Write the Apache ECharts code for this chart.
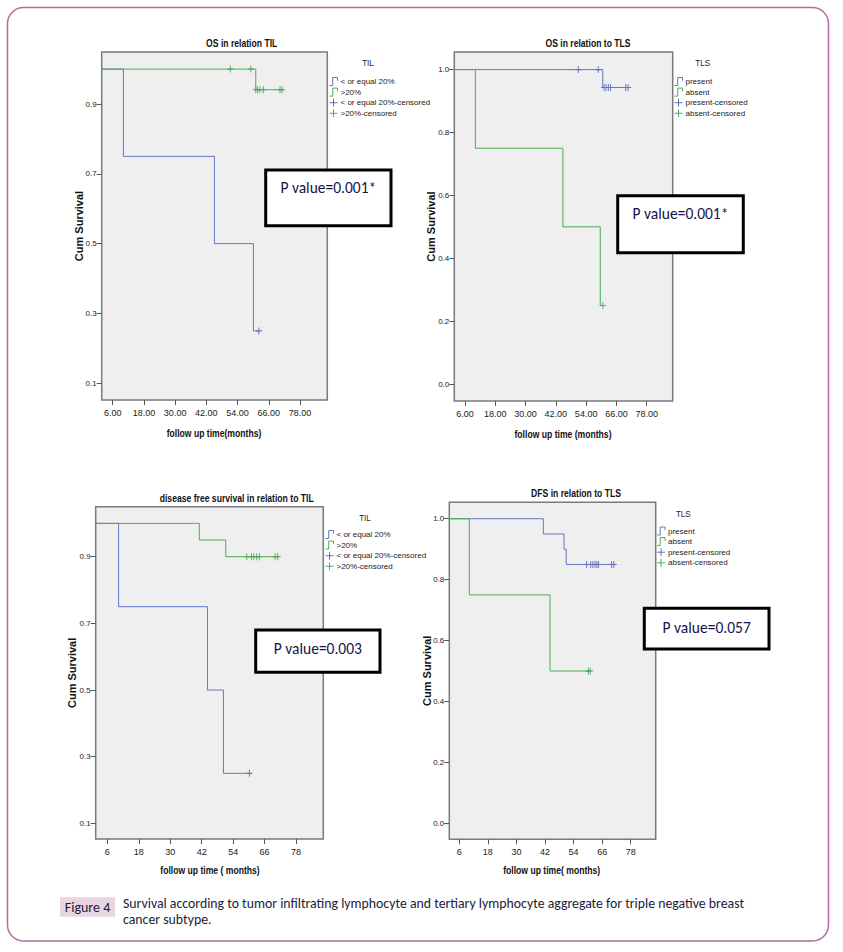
<!DOCTYPE html>
<html><head><meta charset="utf-8">
<script src="https://cdn.jsdelivr.net/npm/echarts@6/dist/echarts.min.js"></script>
<style>html,body{margin:0;padding:0;background:#fff}#c{width:843px;height:952px}</style>
</head><body><div id="c"></div>
<script>
// ---------- Data ----------
// Panel 1: OS in relation TIL
const osTilLowTime = [0, 10.1, 45.1, 60.1, 62.2];
const osTilLowSurv = [1, 0.75, 0.5, 0.25, 0.25];
const osTilLowCensTime = [62.2];
const osTilLowCensSurv = [0.25];
const osTilHighTime = [0, 61.0, 71.9];
const osTilHighSurv = [1, 0.941, 0.941];
const osTilHighCensTime = [51.2, 59.1, 61.0, 61.7, 62.6, 63.9, 70.3, 71.1];
const osTilHighCensSurv = [1, 1, 0.941, 0.941, 0.941, 0.941, 0.941, 0.941];

// Panel 2: OS in relation to TLS
const osTlsPresTime = [0, 60.6, 71.1];
const osTlsPresSurv = [1, 0.943, 0.943];
const osTlsPresCensTime = [50.9, 58.8, 61.1, 61.9, 62.8, 63.7, 69.7, 70.6];
const osTlsPresCensSurv = [1, 1, 0.943, 0.943, 0.943, 0.943, 0.943, 0.943];
const osTlsAbsTime = [0, 10.1, 44.8, 59.6, 60.6];
const osTlsAbsSurv = [1, 0.75, 0.5, 0.25, 0.25];
const osTlsAbsCensTime = [60.6];
const osTlsAbsCensSurv = [0.25];

// Panel 3: disease free survival in relation to TIL
const dfsTilLowTime = [0, 10.3, 44.2, 50.3, 60.2];
const dfsTilLowSurv = [1, 0.75, 0.5, 0.25, 0.25];
const dfsTilLowCensTime = [60.2];
const dfsTilLowCensSurv = [0.25];
const dfsTilHighTime = [0, 41.1, 51.2, 71.6];
const dfsTilHighSurv = [1, 0.95, 0.9, 0.9];
const dfsTilHighCensTime = [59.2, 61.0, 61.9, 63.0, 64.0, 70.0, 71.0];
const dfsTilHighCensSurv = [0.9, 0.9, 0.9, 0.9, 0.9, 0.9, 0.9];

// Panel 4: DFS in relation to TLS
const dfsTlsPresTime = [0, 41.3, 50.0, 50.9, 71.9];
const dfsTlsPresSurv = [1, 0.95, 0.9, 0.85, 0.85];
const dfsTlsPresCensTime = [59.5, 61.2, 62.1, 63.0, 63.8, 64.4, 70.0, 70.9];
const dfsTlsPresCensSurv = [0.85, 0.85, 0.85, 0.85, 0.85, 0.85, 0.85, 0.85];
const dfsTlsAbsTime = [0, 10.2, 44.1, 61.0];
const dfsTlsAbsSurv = [1, 0.75, 0.5, 0.5];
const dfsTlsAbsCensTime = [60.2, 61.0];
const dfsTlsAbsCensSurv = [0.5, 0.5];

// Tick labels
const xTickValues = [6, 18, 30, 42, 54, 66, 78];
const yTicksTIL = [0.1, 0.3, 0.5, 0.7, 0.9];
const yTicksTLS = [0.0, 0.2, 0.4, 0.6, 0.8, 1.0];

// Names / texts
const panelTitles = ['OS in relation TIL', 'OS in relation to TLS', 'disease free survival in relation to TIL', 'DFS in relation to TLS'];
const xAxisNames = ['follow up time(months)', 'follow up time (months)', 'follow up time ( months)', 'follow up time( months)'];
const yAxisName = 'Cum Survival';
const tilNames = ['< or equal 20%', '>20%', '< or equal 20%-censored', '>20%-censored'];
const tlsNames = ['present', 'absent', 'present-censored', 'absent-censored'];
const pValues = ['P value=0.001*', 'P value=0.001*', 'P value=0.003', 'P value=0.057'];
const captionLabel = 'Figure 4';
const captionText = 'Survival according to tumor infiltrating lymphocyte and tertiary lymphocyte aggregate for triple negative breast\ncancer subtype.';

// ---------- Styling ----------
const NARROW = '"Liberation Sans Narrow","Arial Narrow","Liberation Sans",sans-serif';
const SANS = '"Liberation Sans",Arial,sans-serif';
const CAL = 'Carlito,Calibri,Lato,sans-serif';
const BLUE = '#6676c4', BLUE_C = '#3f51a8', GREEN = '#4aad52', GREEN_C = '#2e9a3e';
const stepIcon = 'path://M0,10L4,10L4,0L10,0L10,4';
const plusIcon = 'path://M5,0L5,10M0,5L10,5';
const censSym = 'path://M5,0L5,10M0,5L10,5';

function zip(t, s) { return t.map((v, i) => [v, s[i]]); }

const grids = [
  {left: 101.7, top: 52, width: 225.6, height: 348},
  {left: 454.3, top: 52, width: 218.4, height: 349},
  {left: 95.7, top: 506.7, width: 227.6, height: 332.3},
  {left: 449.3, top: 502.3, width: 206.4, height: 337}
];
const xRanges = [[1.77, 88.5], [1.76, 88.3], [1.57, 88.4], [1.8, 88.5]];
const yRanges = [[0.052, 1.049], [-0.054, 1.056], [0.053, 1.05], [-0.0525, 1.054]];
const yTicksPer = [yTicksTIL, yTicksTLS, yTicksTIL, yTicksTLS];
const xFmt = [v => v.toFixed(2), v => v.toFixed(2), v => String(v), v => String(v)];
const yNameGap = [17, 17.5, 18, 17];

const xAxes = grids.map((g, i) => ({
  type: 'value', gridIndex: i, min: xRanges[i][0], max: xRanges[i][1], position: 'bottom',
  axisLine: {show: false, onZero: false}, splitLine: {show: false},
  axisTick: {show: true, customValues: xTickValues, length: 5, lineStyle: {color: '#555'}},
  axisLabel: {customValues: xTickValues, formatter: xFmt[i], margin: 8, fontSize: 9, fontFamily: NARROW, color: '#222'}
}));
const yAxes = grids.map((g, i) => ({
  type: 'value', gridIndex: i, min: yRanges[i][0], max: yRanges[i][1], position: 'left',
  name: yAxisName, nameLocation: 'middle', nameGap: yNameGap[i], nameMoveOverlap: false,
  nameTextStyle: {fontFamily: SANS, fontWeight: 'bold', fontSize: 11, color: '#111'},
  axisLine: {show: false, onZero: false}, splitLine: {show: false},
  axisTick: {show: true, customValues: yTicksPer[i], length: 5, lineStyle: {color: '#555'}},
  axisLabel: {customValues: yTicksPer[i], formatter: v => v.toFixed(1), margin: 5, fontSize: 8, fontFamily: NARROW, color: '#222'}
}));

function km(name, gi, t, s, color) {
  return {type: 'line', name, xAxisIndex: gi, yAxisIndex: gi, step: 'end', data: zip(t, s),
    symbol: 'none', lineStyle: {color, width: 1}, itemStyle: {color}, silent: true, animation: false, clip: true};
}
function cens(name, gi, t, s, color) {
  return {type: 'scatter', name, xAxisIndex: gi, yAxisIndex: gi, data: zip(t, s),
    symbol: censSym, symbolSize: [6, 7],
    itemStyle: {color: 'transparent', borderColor: color, borderWidth: 1}, silent: true, animation: false};
}

const series = [
  km(tilNames[0], 0, osTilLowTime, osTilLowSurv, BLUE),
  km(tilNames[1], 0, osTilHighTime, osTilHighSurv, GREEN),
  cens(tilNames[2], 0, osTilLowCensTime, osTilLowCensSurv, BLUE_C),
  cens(tilNames[3], 0, osTilHighCensTime, osTilHighCensSurv, GREEN_C),

  km(tlsNames[0], 1, osTlsPresTime, osTlsPresSurv, BLUE),
  km(tlsNames[1], 1, osTlsAbsTime, osTlsAbsSurv, GREEN),
  cens(tlsNames[2], 1, osTlsPresCensTime, osTlsPresCensSurv, BLUE_C),
  cens(tlsNames[3], 1, osTlsAbsCensTime, osTlsAbsCensSurv, GREEN_C),

  km(tilNames[0], 2, dfsTilLowTime, dfsTilLowSurv, BLUE),
  km(tilNames[1], 2, dfsTilHighTime, dfsTilHighSurv, GREEN),
  cens(tilNames[2], 2, dfsTilLowCensTime, dfsTilLowCensSurv, BLUE_C),
  cens(tilNames[3], 2, dfsTilHighCensTime, dfsTilHighCensSurv, GREEN_C),

  km(tlsNames[0], 3, dfsTlsPresTime, dfsTlsPresSurv, BLUE),
  km(tlsNames[1], 3, dfsTlsAbsTime, dfsTlsAbsSurv, GREEN),
  cens(tlsNames[2], 3, dfsTlsPresCensTime, dfsTlsPresCensSurv, BLUE_C),
  cens(tlsNames[3], 3, dfsTlsAbsCensTime, dfsTlsAbsCensSurv, GREEN_C)
];

function legendData(names) {
  const cols = [BLUE, GREEN, BLUE_C, GREEN_C];
  return names.map((n, i) => ({
    name: n, icon: i < 2 ? stepIcon : plusIcon,
    itemStyle: {color: 'transparent', borderColor: cols[i], borderWidth: 1}
  }));
}
const legendPos = [[329, 77], [674, 77], [325, 530], [656.5, 526.5]];
const legends = legendPos.map((p, i) => ({
  left: p[0], top: p[1], orient: 'vertical', padding: 0, itemGap: 1.6, itemWidth: 10, itemHeight: 8,
  selectedMode: false, data: legendData(i % 2 === 0 ? tilNames : tlsNames),
  textStyle: {fontSize: 8, fontFamily: NARROW, color: '#222', padding: [0, 0, 0, -3]}
}));

// ---------- Graphic texts & boxes ----------
const graphic = [];
graphic.push({type: 'rect', z: 0, shape: {x: 7.5, y: 7.5, width: 821, height: 933.5, r: 16},
  style: {fill: 'none', stroke: '#b56a9b', lineWidth: 1.5}});
const titlePos = [[241.7, 43], [588, 43], [236.7, 498], [576, 493.5]];
titlePos.forEach((p, i) => graphic.push({type: 'text', x: p[0], y: p[1], z: 50, scaleX: 0.82,
  style: {text: panelTitles[i], textAlign: 'center', textVerticalAlign: 'middle',
    fontFamily: NARROW, fontWeight: 'bold', fontSize: 10.5, fill: '#111'}}));
const xNamePos = [[214, 433], [563, 434], [210, 870], [551.7, 870]];
xNamePos.forEach((p, i) => graphic.push({type: 'text', x: p[0], y: p[1], z: 50, scaleX: 0.82,
  style: {text: xAxisNames[i], textAlign: 'center', textVerticalAlign: 'middle',
    fontFamily: NARROW, fontWeight: 'bold', fontSize: 10.5, fill: '#111'}}));
const legTitlePos = [[368, 63], [702.7, 63], [365, 517.3], [683.3, 513.3]];
legTitlePos.forEach((p, i) => graphic.push({type: 'text', x: p[0], y: p[1], z: 50, scaleX: 0.85,
  style: {text: i % 2 === 0 ? 'TIL' : 'TLS', textAlign: 'center', textVerticalAlign: 'middle',
    fontFamily: NARROW, fontSize: 9.5, fill: '#222'}}));
const pBoxes = [[265.7, 170, 125.3, 55.7, 187], [617.7, 195.7, 125.6, 57, 213],
                [255.7, 630, 124.3, 42.3, 648], [644.3, 608.3, 124.7, 40.7, 627.5]];
pBoxes.forEach((b, i) => {
  graphic.push({type: 'rect', z: 100, shape: {x: b[0], y: b[1], width: b[2], height: b[3]},
    style: {fill: '#fff', stroke: '#000', lineWidth: 3}});
  graphic.push({type: 'text', z: 101, x: b[0] + b[2] / 2, y: b[4],
    style: {text: pValues[i], textAlign: 'center', textVerticalAlign: 'middle',
      fontFamily: CAL, fontSize: 15.5, fill: '#15154a'}});
});
graphic.push({type: 'rect', z: 50, shape: {x: 60, y: 897.3, width: 55, height: 19.4},
  style: {fill: '#e8d5e0', stroke: 'none'}});
graphic.push({type: 'text', z: 51, x: 87.5, y: 907, style: {text: captionLabel, textAlign: 'center',
  textVerticalAlign: 'middle', fontFamily: CAL, fontSize: 14, fill: '#1b1b3a'}});
graphic.push({type: 'text', z: 51, x: 123, y: 895, style: {text: captionText, textAlign: 'left',
  textVerticalAlign: 'top', fontFamily: CAL, fontSize: 13.8, lineHeight: 16, fill: '#1b1b3a'}});

const chart = echarts.init(document.getElementById('c'), null, {renderer: 'svg'});
chart.setOption({
  animation: false,
  backgroundColor: '#fff',
  grid: grids.map(g => Object.assign({show: true, backgroundColor: '#efefef', borderColor: '#7a7a7a', borderWidth: 1.5}, g)),
  xAxis: xAxes, yAxis: yAxes, legend: legends, series, graphic
});
</script></body></html>
